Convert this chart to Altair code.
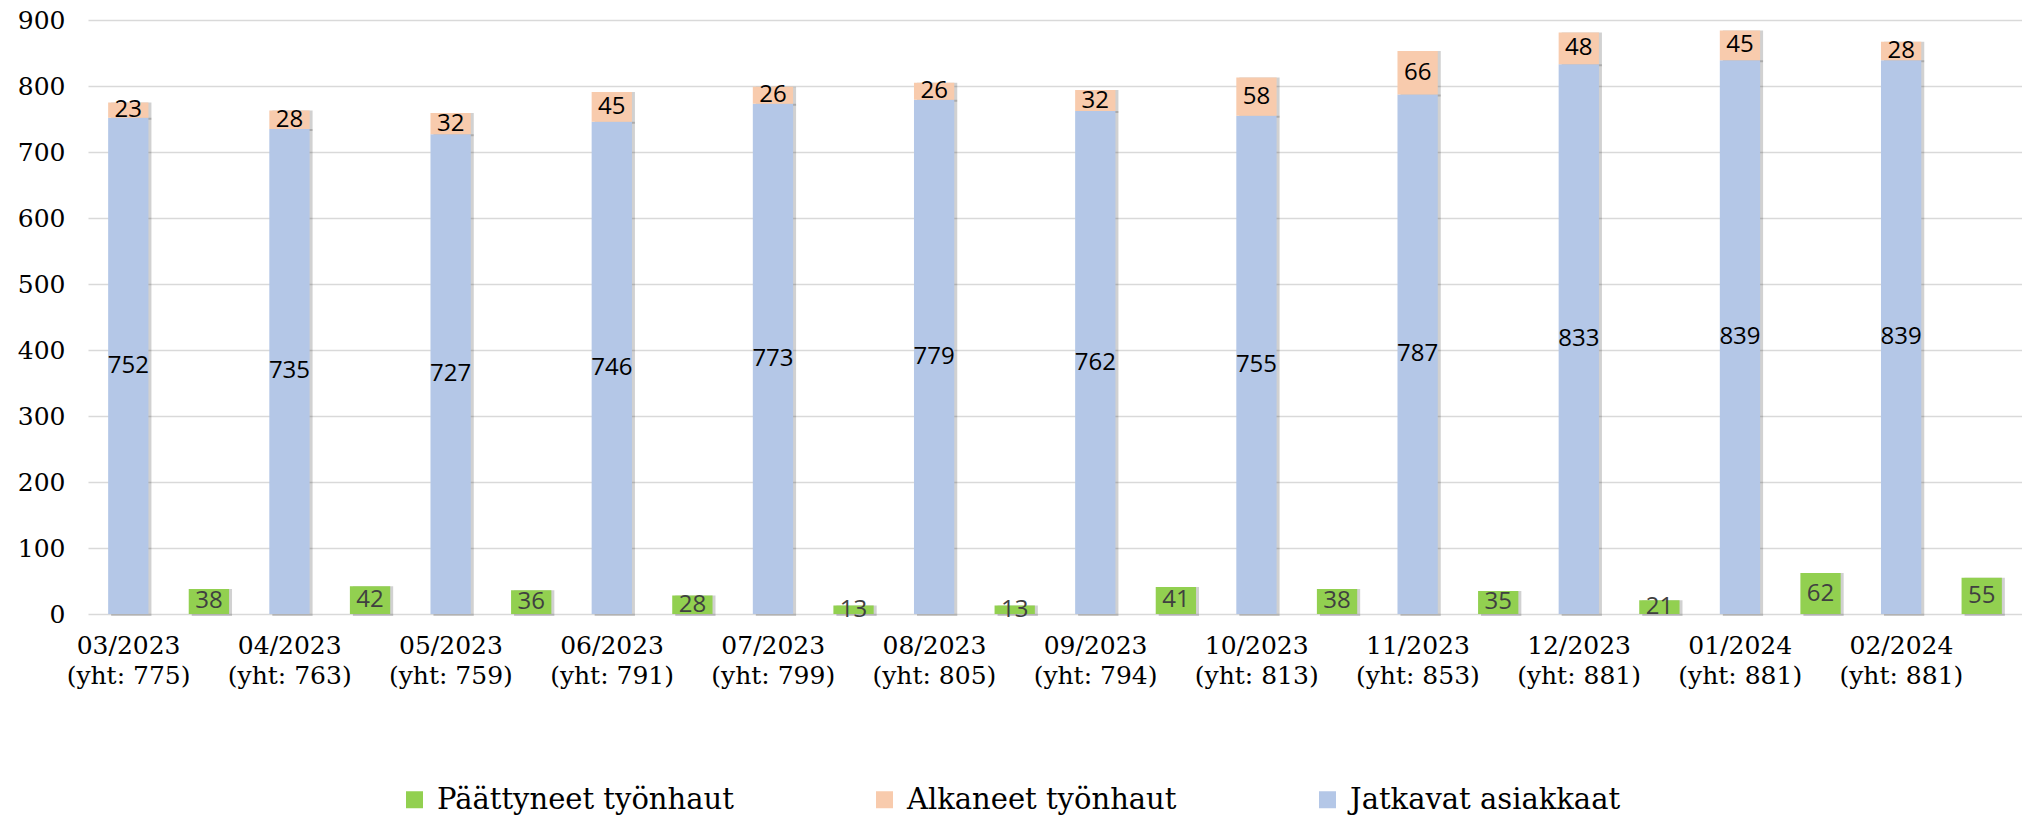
import altair as alt
import pandas as pd

months = ["03/2023", "04/2023", "05/2023", "06/2023", "07/2023", "08/2023",
          "09/2023", "10/2023", "11/2023", "12/2023", "01/2024", "02/2024"]
totals = [775, 763, 759, 791, 799, 805, 794, 813, 853, 881, 881, 881]
jatkavat = [752, 735, 727, 746, 773, 779, 762, 755, 787, 833, 839, 839]
alkaneet = [23, 28, 32, 45, 26, 26, 32, 58, 66, 48, 45, 28]
paattyneet = [38, 42, 36, 28, 13, 13, 41, 38, 35, 21, 62, 55]

series_names = ["Päättyneet työnhaut", "Alkaneet työnhaut", "Jatkavat asiakkaat"]
series_colors = ["#92D050", "#F8CBAD", "#B4C7E7"]

FONT = "DejaVu Serif, DejaVu Sans, sans-serif"

cats = [f"{m}|(yht: {t})" for m, t in zip(months, totals)]
rows = []
for i, c in enumerate(cats):
    rows.append(dict(cat=c, series="Jatkavat asiakkaat", group="S", order=1, value=jatkavat[i]))
    rows.append(dict(cat=c, series="Alkaneet työnhaut", group="S", order=2, value=alkaneet[i]))
    rows.append(dict(cat=c, series="Päättyneet työnhaut", group="P", order=1, value=paattyneet[i]))
df = pd.DataFrame(rows)

W, H = 1934, 594
step = W / len(cats)

base = alt.Chart(df).transform_stack(
    stack="value", groupby=["cat", "group"], as_=["y0", "y1"],
    sort=[alt.SortField("order", order="ascending")]
).transform_calculate(mid="(datum.y0 + datum.y1) / 2")

x = alt.X("cat:N", sort=cats,
          scale=alt.Scale(domain=cats, paddingInner=0, paddingOuter=0),
          axis=alt.Axis(title=None, labelExpr="split(datum.value, '|')",
                        labelFont=FONT, labelFontSize=25, labelColor="#000000",
                        labelOffset=-40, labelPadding=19, labelLineHeight=30,
                        ticks=False, domain=False, labelAngle=0, grid=False,
                        labelBaseline="top"))
xo = alt.XOffset("group:N", scale=alt.Scale(domain=["S", "P"], paddingInner=0.5, paddingOuter=0.25))
xo_shadow = alt.XOffset("group:N", scale=alt.Scale(domain=["S", "P"], paddingInner=0.5,
                                                   paddingOuter=0.25, range=[3, step + 3]))
y = alt.Y("y0:Q", scale=alt.Scale(domain=[0, 900], nice=False),
          axis=alt.Axis(title=None, values=list(range(0, 1000, 100)),
                        labelFont=FONT, labelFontSize=25, labelColor="#000000",
                        labelPadding=23, ticks=False, domain=False,
                        gridColor="#D9D9D9", gridWidth=1.5))
y2 = alt.Y2("y1:Q")

shadow = base.mark_bar(color="#000000", opacity=0.18, yOffset=2).encode(
    x=x, xOffset=xo_shadow, y=y, y2=y2)

bars = base.mark_bar().encode(
    x=x, xOffset=xo, y=y, y2=y2,
    color=alt.Color("series:N", scale=alt.Scale(domain=series_names, range=series_colors),
                    legend=alt.Legend(title=None, orient="none", legendX=312, legendY=765,
                                      direction="horizontal", symbolType="square",
                                      symbolSize=289, symbolStrokeWidth=0,
                                      labelFont=FONT, labelFontSize=29,
                                      labelColor="#000000", labelOffset=8,
                                      columnPadding=136, labelLimit=0, padding=0)))

labels = base.mark_text(font="Open Sans", fontSize=24, baseline="middle").encode(
    x=x, xOffset=xo, y=alt.Y("mid:Q"),
    text=alt.Text("value:Q"),
    color=alt.condition(alt.datum.series == "Päättyneet työnhaut",
                        alt.value("#404040"), alt.value("#000000")))

front = alt.layer(bars, labels)

chart = alt.layer(shadow, front).resolve_scale(xOffset="independent").properties(
    width=W, height=H,
    autosize=alt.AutoSizeParams(type="none"),
    padding={"left": 80, "top": 12, "right": 0, "bottom": 204},
).configure_view(stroke=None)

chart.save("out.html", embed_options={"renderer": "svg", "actions": False})
